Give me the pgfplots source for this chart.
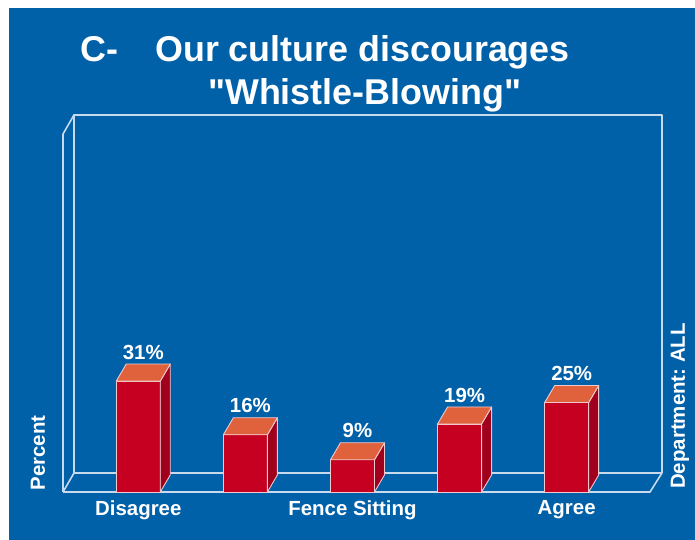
\documentclass[border=0pt]{standalone}
\usepackage{pgfplots}
\pgfplotsset{compat=1.18}
\usepackage{fontspec}
\setmainfont[Ligatures=TeXOff]{Liberation Sans}
\frenchspacing
\definecolor{bg}{RGB}{0,96,168}
\definecolor{frontc}{RGB}{198,0,32}
\definecolor{topc}{RGB}{224,98,60}
\definecolor{sidec}{RGB}{160,0,28}
\definecolor{edgec}{RGB}{240,200,205}
\definecolor{framec}{RGB}{200,218,238}

\pgfdeclareplotmark{bar3d}{%
  \pgfmathsetmacro{\hh}{\h*3.58}%
  \pgfsetstrokecolor{edgec}%
  \pgfsetlinewidth{0.9bp}%
  \pgfsetroundjoin
  % side face
  \pgfpathmoveto{\pgfpoint{22bp}{0bp}}%
  \pgfpathlineto{\pgfpoint{32bp}{17bp}}%
  \pgfpathlineto{\pgfpoint{32bp}{17bp-\hh bp}}%
  \pgfpathlineto{\pgfpoint{22bp}{-\hh bp}}%
  \pgfpathclose
  \pgfsetfillcolor{sidec}%
  \pgfusepath{fill,stroke}%
  % top face
  \pgfpathmoveto{\pgfpoint{-22bp}{0bp}}%
  \pgfpathlineto{\pgfpoint{22bp}{0bp}}%
  \pgfpathlineto{\pgfpoint{32bp}{17bp}}%
  \pgfpathlineto{\pgfpoint{-12bp}{17bp}}%
  \pgfpathclose
  \pgfsetfillcolor{topc}%
  \pgfusepath{fill,stroke}%
}

\begin{document}
\begin{tikzpicture}[x=1bp,y=1bp]
% background
\fill[white] (0,0) rectangle (695,540);
\fill[bg] (9,0) rectangle (695,532);
% title
\node[anchor=base west, text=white, font=\fontsize{36}{40}\selectfont\bfseries, inner sep=0] at (80,478) {C-};
\node[anchor=base west, text=white, font=\fontsize{36}{40}\selectfont\bfseries, inner sep=0] at (155,478) {Our culture discourages};
\node[anchor=base west, text=white, font=\fontsize{36}{40}\selectfont\bfseries, inner sep=0] at (208,435) {"Whistle-Blowing"};
% side labels
\node[rotate=90, text=white, font=\fontsize{20.5}{24}\selectfont\bfseries, inner sep=0] at (38,87) {Percent};
\node[rotate=90, text=white, font=\fontsize{20.5}{24}\selectfont\bfseries, inner sep=0] at (680,134) {Department: ALL};
% 3D frame
\begin{scope}[draw=framec, line width=1.6bp, line join=round]
\draw (63,48) -- (650,48) -- (662,67);
\draw (63,48) -- (74,67) -- (662,67);
\draw (74,67) -- (74,425) -- (662,425) -- (662,67);
\draw (63,48) -- (63,406) -- (74,425);
\end{scope}
\begin{axis}[
  at={(63bp,48bp)}, anchor=south west,
  scale only axis, width=587bp, height=358bp,
  xmin=-0.703, xmax=4.778, ymin=0, ymax=100,
  axis line style={draw=none},
  major tick length=0pt,
  xtick={0,1,2,3,4},
  xticklabels={Disagree,,Fence Sitting,,Agree},
  ytick=\empty,
  xticklabel style={anchor=center, yshift=-18bp, text=white, font=\fontsize{20.5}{24}\selectfont\bfseries},
  /pgf/number format/assume math mode=true,
  clip=false,
]
\addplot[ybar, bar width=44bp, fill=frontc, draw=edgec, line width=0.9bp] coordinates {(0,31) (1,16) (2,9) (3,19) (4,25)};
\addplot[scatter, only marks, mark=bar3d, point meta=rawy,
  visualization depends on={rawy \as \h},
  scatter/use mapped color={draw=edgec, fill=topc},
  nodes near coords={\pgfmathprintnumber{\pgfplotspointmeta}\%},
  every node near coord/.append style={anchor=center, xshift=5bp, yshift=29bp, text=white, font=\fontsize{20.5}{24}\selectfont\bfseries}
] coordinates {(0,31) (1,16) (2,9) (3,19) (4,25)};
\end{axis}
\end{tikzpicture}
\end{document}
